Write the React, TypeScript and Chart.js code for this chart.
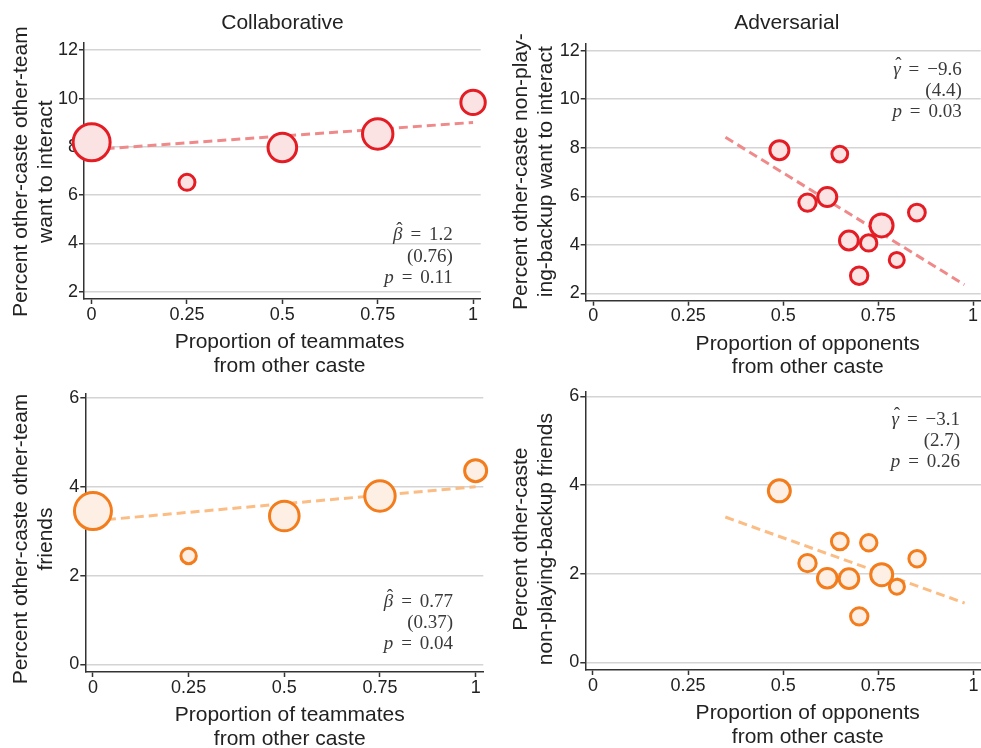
import React, { useEffect, useRef } from "react";
import { Chart, registerables } from "chart.js";

Chart.register(...registerables);

// ---------- data ----------
// Collaborative: proportion of teammates from other caste
const teamShare = [0, 0.25, 0.5, 0.75, 1];
const teamInteract = [8.19, 6.53, 7.97, 8.53, 9.84];
const teamInteractSize = [18.5, 8, 14.3, 15.2, 12.2];
const teamFriends = [3.45, 2.44, 3.34, 3.79, 4.36];
const teamFriendsSize = [18.5, 7.7, 14.8, 15.2, 11];
const teamFitX = [0, 1];
const teamInteractFit = [7.88, 9.01];
const teamFriendsFit = [3.23, 4.0];

// Adversarial: proportion of opponents from other caste
const oppShare = [0.49, 0.564, 0.616, 0.649, 0.673, 0.7, 0.725, 0.759, 0.799, 0.852];
const oppInteract = [7.9, 5.74, 5.97, 7.74, 4.18, 2.73, 4.08, 4.8, 3.38, 5.33];
const oppInteractSize = [9.5, 8.7, 9.5, 7.9, 9.4, 8.7, 8.2, 11.5, 7.5, 8.4];
const oppFriends = [3.87, 2.24, 1.9, 2.73, 1.89, 1.04, 2.7, 1.98, 1.71, 2.34];
const oppFriendsSize = [11, 8.7, 9.8, 8.4, 9.8, 8.7, 8.2, 11, 7.5, 8.2];
const oppFitX = [0.348, 0.977];
const oppInteractFit = [8.43, 2.36];
const oppFriendsFit = [3.28, 1.34];

// ticks
const xTicks = [0, 0.25, 0.5, 0.75, 1];
const interactTicks = [2, 4, 6, 8, 10, 12];
const friendsTicks = [0, 2, 4, 6];

// texts
const columnTitles = ["Collaborative", "Adversarial"];
const teamXTitle = ["Proportion of teammates", "from other caste"];
const oppXTitle = ["Proportion of opponents", "from other caste"];
const teamInteractYTitle = ["Percent other-caste other-team", "want to interact"];
const oppInteractYTitle = ["Percent other-caste non-play-", "ing-backup want to interact"];
const teamFriendsYTitle = ["Percent other-caste other-team", "friends"];
const oppFriendsYTitle = ["Percent other-caste", "non-playing-backup friends"];

// regression stats: [symbol, estimate, standard error, p-value]
const teamInteractStats = ["β", "1.2", "(0.76)", "0.11"];
const oppInteractStats = ["γ", "−9.6", "(4.4)", "0.03"];
const teamFriendsStats = ["β", "0.77", "(0.37)", "0.04"];
const oppFriendsStats = ["γ", "−3.1", "(2.7)", "0.26"];

// ---------- styles ----------
const SANS = '"Liberation Sans", Arial, sans-serif';
const SERIF = '"Liberation Serif", "Times New Roman", serif';
const RED = { edge: "#e41c24", fill: "#fbe2e3", fit: "#f08a8a" };
const ORANGE = { edge: "#f37c1c", fill: "#fdefe4", fit: "#fbbd84" };

type PanelProps = {
  left: number;
  top: number;
  w: number;
  h: number;
  padTop: number;
  padRight: number;
  yAxisWidth: number;
  xAxisHeight: number;
  yMin: number;
  yMax: number;
  yTicks: number[];
  xs: number[];
  ys: number[];
  rs: number[];
  fitX: number[];
  fitY: number[];
  colors: { edge: string; fill: string; fit: string };
  title?: string;
  titleX?: number;
  xTitle: string[];
  xTitleX: number;
  yTitle: string[];
  yTitleY: number;
  stats: string[];
  statX: number;
  statY: number;
};

function Panel(p: PanelProps) {
  const ref = useRef<HTMLCanvasElement | null>(null);

  useEffect(() => {
    if (!ref.current) return;
    const textPlugin = {
      id: "panelText",
      afterDraw(chart: any) {
        const ctx: CanvasRenderingContext2D = chart.ctx;
        const area = chart.chartArea;
        const xs = chart.scales.x;
        const ys = chart.scales.y;
        ctx.save();
        ctx.fillStyle = "#222";
        ctx.textBaseline = "alphabetic";
        // column title
        if (p.title) {
          ctx.font = `21px ${SANS}`;
          ctx.textAlign = "center";
          ctx.fillText(p.title, p.titleX ?? (area.left + area.right) / 2, 29.3);
        }
        // x axis title
        ctx.font = `21px ${SANS}`;
        ctx.textAlign = "center";
        p.xTitle.forEach((line, i) => {
          ctx.fillText(line, p.xTitleX, area.bottom + 49 + i * 23.5);
        });
        // y axis title
        p.yTitle.forEach((line, i) => {
          ctx.save();
          ctx.translate(26.5 + i * 25, p.yTitleY);
          ctx.rotate(-Math.PI / 2);
          ctx.textAlign = "center";
          ctx.fillText(line, 0, 0);
          ctx.restore();
        });
        // regression stats
        const ax = xs.getPixelForValue(p.statX);
        const ay = ys.getPixelForValue(p.statY);
        const [sym, est, se, pv] = p.stats;
        ctx.fillStyle = "#3a3a3a";
        ctx.textAlign = "right";
        const up = `19px ${SERIF}`;
        const it = `italic 19px ${SERIF}`;
        const eq = "\u2004\u200A=\u2004\u200A";
        // line 1
        ctx.font = up;
        const rest1 = eq + est;
        ctx.fillText(rest1, ax, ay);
        const w1 = ctx.measureText(rest1).width;
        ctx.font = it;
        ctx.fillText(sym, ax - w1, ay);
        const ws = ctx.measureText(sym).width;
        ctx.font = up;
        ctx.textAlign = "center";
        ctx.fillText("ˆ", ax - w1 - ws / 2 + 1.5, ay - 5);
        // line 2
        ctx.textAlign = "right";
        ctx.fillText(se, ax, ay + 21.3);
        // line 3
        const rest3 = eq + pv;
        ctx.fillText(rest3, ax, ay + 42.6);
        const w3 = ctx.measureText(rest3).width;
        ctx.font = it;
        ctx.fillText("p", ax - w3, ay + 42.6);
        ctx.restore();
      },
    };

    const chart = new Chart(ref.current, {
      type: "bubble",
      data: {
        datasets: [
          {
            type: "line",
            data: p.fitX.map((x, i) => ({ x, y: p.fitY[i] })),
            borderColor: p.colors.fit,
            borderWidth: 3,
            borderDash: [9, 5],
            pointRadius: 0,
            fill: false,
            order: 2,
          } as any,
          {
            type: "bubble",
            data: p.xs.map((x, i) => ({ x, y: p.ys[i], r: p.rs[i] })),
            backgroundColor: p.colors.fill,
            borderColor: p.colors.edge,
            borderWidth: 3,
            hoverBorderWidth: 3,
            order: 1,
            clip: false,
          } as any,
        ],
      },
      options: {
        responsive: false,
        animation: false,
        devicePixelRatio: 1,
        events: [],
        layout: {
          autoPadding: false,
          padding: { top: p.padTop, right: p.padRight, left: 0, bottom: 0 },
        },
        plugins: {
          legend: { display: false },
          tooltip: { enabled: false },
          title: { display: false },
        },
        scales: {
          x: {
            type: "linear",
            min: -0.02,
            max: 1.02,
            afterBuildTicks: (s: any) => {
              s.ticks = xTicks.map((v) => ({ value: v }));
            },
            afterFit: (s: any) => {
              s.height = p.xAxisHeight;
            },
            grid: {
              drawOnChartArea: false,
              drawTicks: true,
              tickLength: 5,
              tickColor: "#333",
              tickWidth: 1.5,
            },
            border: { display: true, color: "#333", width: 1.5 },
            ticks: {
              color: "#222",
              font: { family: SANS, size: 18 },
              padding: 0,
              autoSkip: false,
              maxRotation: 0,
              callback: (v: any) => String(v),
            },
            title: { display: false, text: p.xTitle },
          },
          y: {
            type: "linear",
            min: p.yMin,
            max: p.yMax,
            afterBuildTicks: (s: any) => {
              s.ticks = p.yTicks.map((v) => ({ value: v }));
            },
            afterFit: (s: any) => {
              s.width = p.yAxisWidth;
            },
            grid: {
              color: "#d4d4d4",
              lineWidth: 1.5,
              drawTicks: true,
              tickLength: 5,
              tickColor: "#333",
              tickWidth: 1.5,
            },
            border: { display: true, color: "#333", width: 1.5 },
            ticks: {
              color: "#222",
              font: { family: SANS, size: 18 },
              padding: 1,
              autoSkip: false,
              callback: (v: any) => String(v),
            },
            title: { display: false, text: p.yTitle },
          },
        },
      },
      plugins: [textPlugin],
    } as any);
    return () => chart.destroy();
  }, []);

  return (
    <canvas
      ref={ref}
      width={p.w}
      height={p.h}
      style={{ position: "absolute", left: p.left, top: p.top, width: p.w, height: p.h }}
    />
  );
}

export default function App() {
  return (
    <div style={{ position: "absolute", left: 0, top: 0, width: 981, height: 748, background: "#fff", overflow: "hidden" }}>
      <Panel
        left={0} top={0} w={490} h={380}
        padTop={43} padRight={9.3} yAxisWidth={84} xAxisHeight={81}
        yMin={1.7} yMax={12.3} yTicks={interactTicks}
        xs={teamShare} ys={teamInteract} rs={teamInteractSize}
        fitX={teamFitX} fitY={teamInteractFit} colors={RED}
        title={columnTitles[0]} titleX={282.5}
        xTitle={teamXTitle} xTitleX={289.6}
        yTitle={teamInteractYTitle} yTitleY={171.7}
        stats={teamInteractStats} statX={0.947} statY={4.13}
      />
      <Panel
        left={500} top={0} w={481} h={380}
        padTop={43.3} padRight={0.3} yAxisWidth={85.7} xAxisHeight={79.3}
        yMin={1.7} yMax={12.3} yTicks={interactTicks}
        xs={oppShare} ys={oppInteract} rs={oppInteractSize}
        fitX={oppFitX} fitY={oppInteractFit} colors={RED}
        title={columnTitles[1]} titleX={286.8}
        xTitle={oppXTitle} xTitleX={307.7}
        yTitle={oppInteractYTitle} yTitleY={171.7}
        stats={oppInteractStats} statX={0.97} statY={11.01}
      />
      <Panel
        left={0} top={380} w={490} h={368}
        padTop={13.3} padRight={6.7} yAxisWidth={85.3} xAxisHeight={76}
        yMin={-0.17} yMax={6.1} yTicks={friendsTicks}
        xs={teamShare} ys={teamFriends} rs={teamFriendsSize}
        fitX={teamFitX} fitY={teamFriendsFit} colors={ORANGE}
        xTitle={teamXTitle} xTitleX={289.7}
        yTitle={teamFriendsYTitle} yTitleY={159}
        stats={teamFriendsStats} statX={0.941} statY={1.3}
      />
      <Panel
        left={500} top={380} w={481} h={368}
        padTop={12} padRight={0} yAxisWidth={85.3} xAxisHeight={78}
        yMin={-0.17} yMax={6.1} yTicks={friendsTicks}
        xs={oppShare} ys={oppFriends} rs={oppFriendsSize}
        fitX={oppFitX} fitY={oppFriendsFit} colors={ORANGE}
        xTitle={oppXTitle} xTitleX={307.7}
        yTitle={oppFriendsYTitle} yTitleY={159.2}
        stats={oppFriendsStats} statX={0.965} statY={5.36}
      />
    </div>
  );
}
